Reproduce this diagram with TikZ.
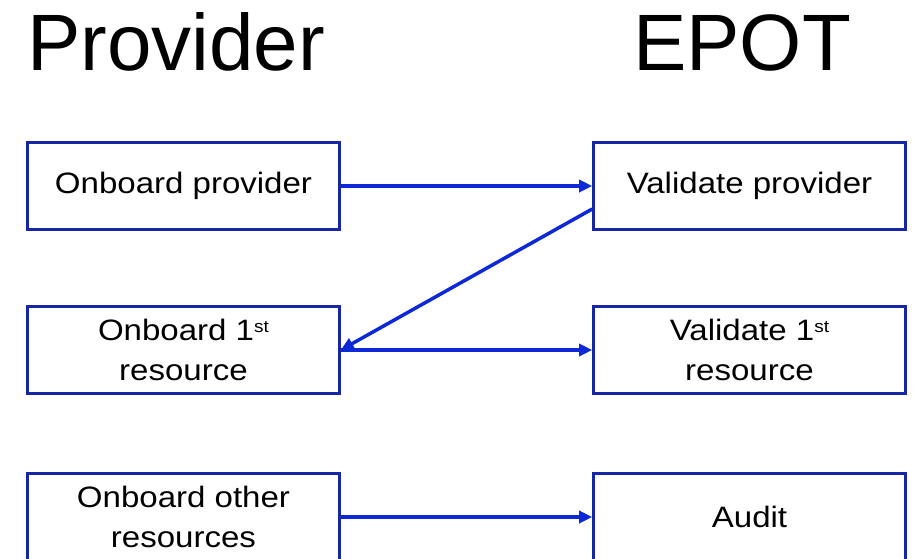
\documentclass[tikz,border=0pt]{standalone}
\usepackage{fontspec}
\setmainfont{Liberation Sans}
\newfontfamily\boxfont[FakeStretch=1.12]{Liberation Sans}
\usetikzlibrary{arrows.meta,calc}
\definecolor{boxblue}{RGB}{22,38,165}
\definecolor{arrowblue}{RGB}{12,40,215}
\newcommand{\sups}[1]{\raisebox{8pt}{\fontsize{17}{17}\selectfont #1}}
\begin{document}
\begin{tikzpicture}[x=1pt,y=1pt,
  stepbox/.style={draw=boxblue, line width=2.6pt, minimum width=312pt, minimum height=87pt,
    inner sep=0pt, align=center, font=\boxfont\fontsize{29.5}{40}\selectfont},
  title/.style={anchor=base west, inner sep=0pt, font=\fontsize{80}{80}\selectfont},
  flow/.style={draw=arrowblue, line width=3.5pt, -{Triangle[length=13pt,width=12pt]}}]
\useasboundingbox (0,0) rectangle (913,-558);
\node[title] (tprov) at (27,-70) {Provider};
\node[title] (tepot) at (633,-70) {EPOT};
\node[stepbox] (op) at (183.5,-186) {Onboard provider};
\node[stepbox] (vp) at (749.5,-186) {Validate provider};
\node[stepbox] (o1) at (183.5,-350) {Onboard 1\sups{st}\\resource};
\node[stepbox] (v1) at (749.5,-350) {Validate 1\sups{st}\\resource};
\node[stepbox] (oo) at (183.5,-517) {Onboard other\\resources};
\node[stepbox] (au) at (749.5,-517) {Audit};
\draw[flow] (op.east) -- (vp.west);
\draw[flow] ($(vp.west)+(0,-23)$) -- (o1.east);
\draw[flow] (o1.east) -- (v1.west);
\draw[flow] (oo.east) -- (au.west);
\end{tikzpicture}
\end{document}
